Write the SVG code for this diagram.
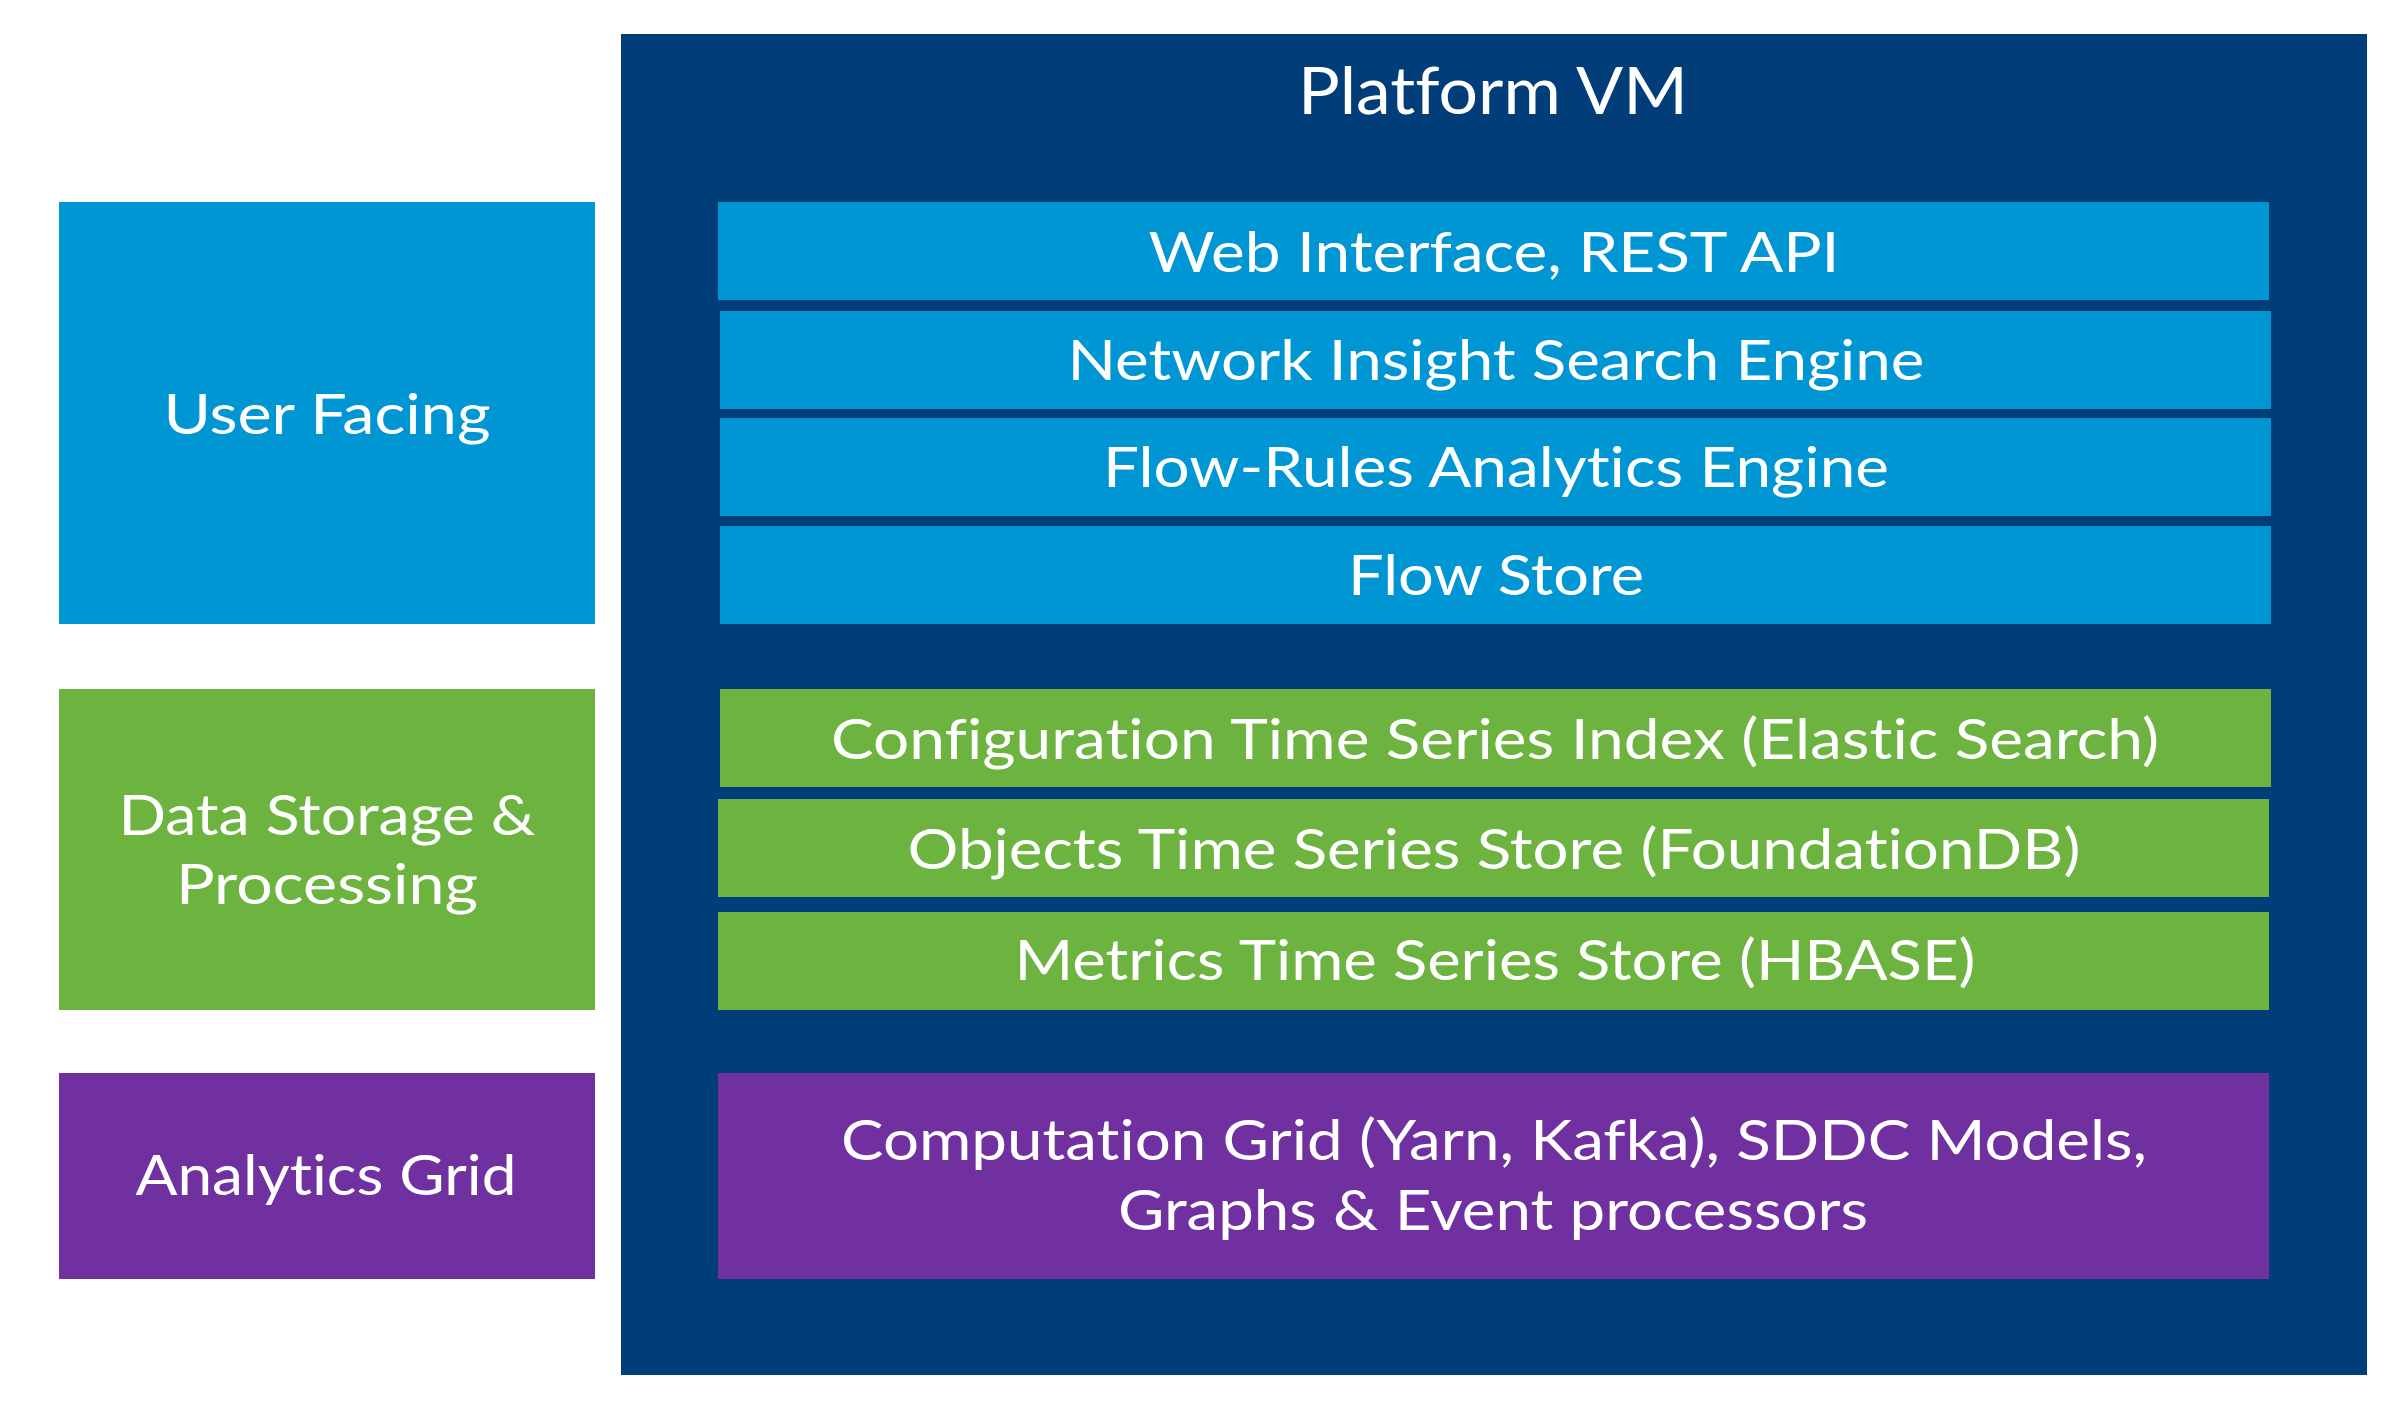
<svg xmlns="http://www.w3.org/2000/svg" width="2396" height="1408" viewBox="0 0 2396 1408">
  <style>
    .navy { fill: #003d79; }
    .blue { fill: #0095d3; }
    .green { fill: #6db33f; }
    .purple { fill: #7030a0; }
    text { font-family: Lato, "Open Sans", "Liberation Sans", sans-serif; fill: #ffffff; text-anchor: middle; font-size: 57px; font-variant-ligatures: none; font-feature-settings: "liga" 0, "clig" 0; }
    .title { font-size: 66px; }
  </style>
  <rect x="0" y="0" width="2396" height="1408" fill="#ffffff"/>

  <g id="platform-vm">
    <rect class="navy" x="621" y="34" width="1746" height="1341"/>
    <text class="title" x="1493" y="114" textLength="390" lengthAdjust="spacingAndGlyphs">Platform VM</text>
  </g>

  <g id="user-facing">
    <rect class="blue" x="59" y="202" width="536" height="422"/>
    <text x="327" y="434" textLength="327" lengthAdjust="spacingAndGlyphs">User Facing</text>
  </g>

  <g id="data-storage">
    <rect class="green" x="59" y="689" width="536" height="321"/>
    <text x="327" y="835" textLength="417" lengthAdjust="spacingAndGlyphs">Data Storage &amp;</text>
    <text x="327" y="904" textLength="302" lengthAdjust="spacingAndGlyphs">Processing</text>
  </g>

  <g id="analytics-grid">
    <rect class="purple" x="59" y="1073" width="536" height="206"/>
    <text x="326" y="1195" textLength="381" lengthAdjust="spacingAndGlyphs">Analytics Grid</text>
  </g>

  <g id="web-interface">
    <rect class="blue" x="718" y="202" width="1551" height="98"/>
    <text x="1494" y="272" textLength="691" lengthAdjust="spacingAndGlyphs">Web Interface, REST API</text>
  </g>

  <g id="search-engine">
    <rect class="blue" x="720" y="311" width="1551" height="98"/>
    <text x="1496" y="380" textLength="857" lengthAdjust="spacingAndGlyphs">Network Insight Search Engine</text>
  </g>

  <g id="flow-rules">
    <rect class="blue" x="720" y="418" width="1551" height="98"/>
    <text x="1496" y="487" textLength="786" lengthAdjust="spacingAndGlyphs">Flow-Rules Analytics Engine</text>
  </g>

  <g id="flow-store">
    <rect class="blue" x="720" y="526" width="1551" height="98"/>
    <text x="1496" y="595" textLength="296" lengthAdjust="spacingAndGlyphs">Flow Store</text>
  </g>

  <g id="config-index">
    <rect class="green" x="720" y="689" width="1551" height="98"/>
    <text x="1495" y="759" textLength="1328" lengthAdjust="spacingAndGlyphs">Configuration Time Series Index (Elastic Search)</text>
  </g>

  <g id="objects-store">
    <rect class="green" x="718" y="799" width="1551" height="98"/>
    <text x="1494" y="869" textLength="1173" lengthAdjust="spacingAndGlyphs">Objects Time Series Store (FoundationDB)</text>
  </g>

  <g id="metrics-store">
    <rect class="green" x="718" y="912" width="1551" height="98"/>
    <text x="1495" y="980" textLength="961" lengthAdjust="spacingAndGlyphs">Metrics Time Series Store (HBASE)</text>
  </g>

  <g id="computation-grid">
    <rect class="purple" x="718" y="1073" width="1551" height="206"/>
    <text x="1494" y="1160" textLength="1306" lengthAdjust="spacingAndGlyphs">Computation Grid (Yarn, Kafka), SDDC Models,</text>
    <text x="1493" y="1230" textLength="750" lengthAdjust="spacingAndGlyphs">Graphs &amp; Event processors</text>
  </g>

  <g id="connectors"></g>
</svg>
